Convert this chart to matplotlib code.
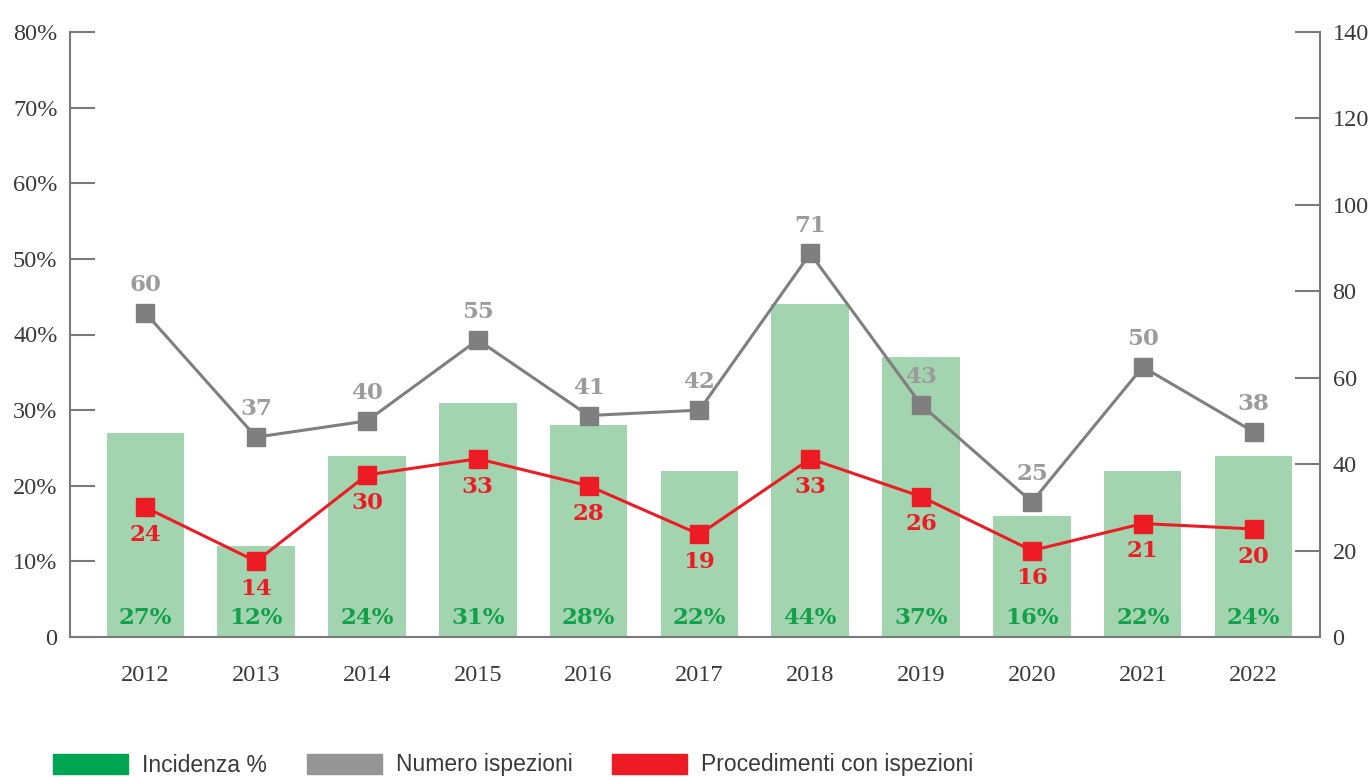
import matplotlib
matplotlib.use("Agg")
import matplotlib.pyplot as plt
from matplotlib.patches import Rectangle

years = ["2012", "2013", "2014", "2015", "2016", "2017", "2018", "2019", "2020", "2021", "2022"]
incidenza = [27, 12, 24, 31, 28, 22, 44, 37, 16, 22, 24]
ispezioni = [60, 37, 40, 55, 41, 42, 71, 43, 25, 50, 38]
procedimenti = [24, 14, 30, 33, 28, 19, 33, 26, 16, 21, 20]
left_ticks = [0, 10, 20, 30, 40, 50, 60, 70, 80]
left_labels = ["0", "10%", "20%", "30%", "40%", "50%", "60%", "70%", "80%"]
right_ticks = [0, 20, 40, 60, 80, 100, 120, 140]
legend_labels = ["Incidenza %", "Numero ispezioni", "Procedimenti con ispezioni"]

BAR = "#a2d5af"
GREEN_TXT = "#12a04a"
GREEN_LEG = "#00a651"
GRAY_LINE = "#7f7f7f"
GRAY_TXT = "#9b9b9b"
GRAY_LEG = "#959595"
RED = "#ed1c24"
AX = "#7a7a7a"
TXT = "#3a3a3a"

tick_font = "Liberation Serif"
val_font = "DejaVu Serif"

fig = plt.figure(figsize=(13.68, 7.77), dpi=100)
ax = fig.add_axes([70/1368, 1-637/777, 1250/1368, 605/777])
x = list(range(len(years)))

ax.bar(x, incidenza, width=0.7, color=BAR, zorder=1)
ax.set_ylim(0, 80)
ax.set_xlim(-0.68, 10.6)
ax.set_yticks(left_ticks)
ax.set_yticklabels(left_labels, fontfamily=tick_font, fontsize=17.5, color=TXT)
ax.set_xticks(x)
ax.set_xticklabels(years, fontfamily=tick_font, fontsize=17.5, color=TXT)
ax.tick_params(axis="x", length=0, pad=20)
ax.tick_params(axis="y", direction="in", length=18, width=1.5, color=AX, pad=9)
for s in ["top", "right"]:
    ax.spines[s].set_visible(False)
for s in ["left", "bottom"]:
    ax.spines[s].set_color(AX)
    ax.spines[s].set_linewidth(1.5)

for xi, v in zip(x, incidenza):
    ax.text(xi, 2.5, f"{v}%", ha="center", va="center", fontfamily=val_font,
            fontweight="bold", fontsize=16.5, color=GREEN_TXT, zorder=5)

# visible right axis
ax2 = ax.twinx()
ax2.set_ylim(0, 140)
ax2.set_yticks(right_ticks)
ax2.set_yticklabels([str(t) for t in right_ticks], fontfamily=tick_font, fontsize=17.5, color=TXT)
ax2.tick_params(axis="y", direction="in", length=18, width=1.5, color=AX, pad=9)
for s in ["top", "left", "bottom"]:
    ax2.spines[s].set_visible(False)
ax2.spines["right"].set_color(AX)
ax2.spines["right"].set_linewidth(1.5)

# line axis
ax3 = ax.twinx()
ax3.set_ylim(0, 112)
ax3.axis("off")
ax3.plot(x, ispezioni, color=GRAY_LINE, lw=2.2, marker="s", markersize=12.5, zorder=3)
ax3.plot(x, procedimenti, color=RED, lw=2.2, marker="s", markersize=12.5, zorder=4)
for xi, v in zip(x, ispezioni):
    ax3.annotate(str(v), (xi, v), xytext=(0, 20), textcoords="offset points",
                 ha="center", va="center", fontfamily=val_font, fontweight="bold",
                 fontsize=16.5, color=GRAY_TXT)
for xi, v in zip(x, procedimenti):
    ax3.annotate(str(v), (xi, v), xytext=(0, -20), textcoords="offset points",
                 ha="center", va="center", fontfamily=val_font, fontweight="bold",
                 fontsize=16.5, color=RED)

# legend
leg_items = [(53, GREEN_LEG, legend_labels[0]), (307, GRAY_LEG, legend_labels[1]),
             (612, RED, legend_labels[2])]
for px, col, lab in leg_items:
    fig.patches.append(Rectangle((px/1368, 1-774/777), 75/1368, 20/777,
                                 transform=fig.transFigure, color=col))
    fig.text((px+89)/1368, 1-765/777, lab, ha="left", va="center",
             fontfamily=["Liberation Sans Narrow", "Liberation Sans"], fontsize=16.5, color=TXT)

fig.savefig("out.png", dpi=100)
